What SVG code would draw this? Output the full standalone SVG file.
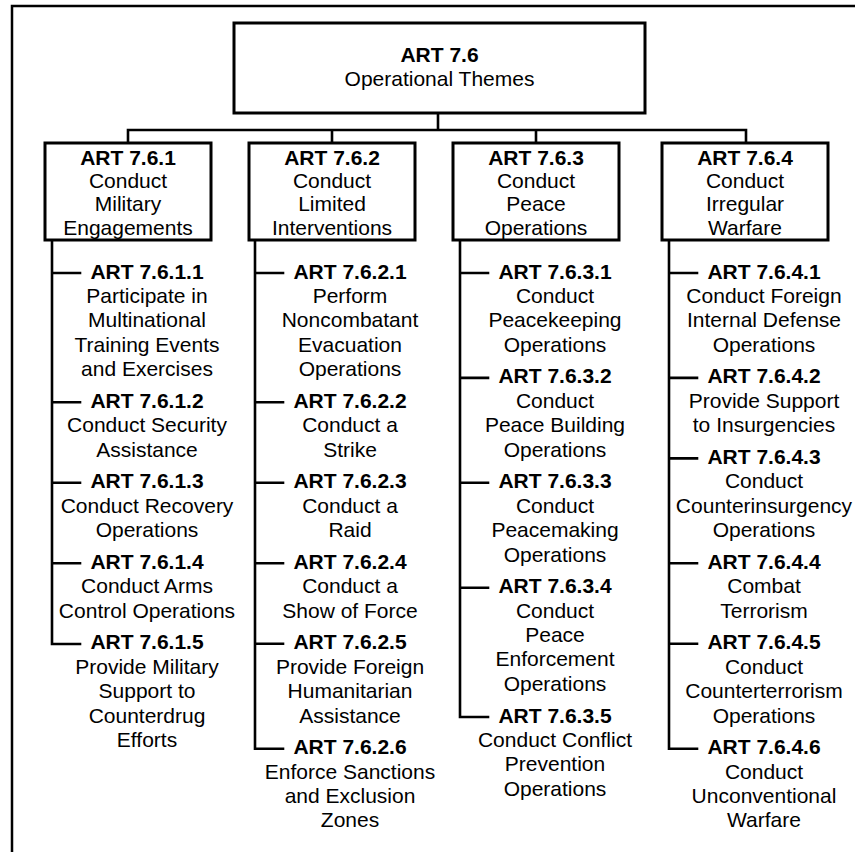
<svg xmlns="http://www.w3.org/2000/svg" width="855" height="852" viewBox="0 0 855 852">
  <style>
    .frame { fill: none; stroke: #000; stroke-width: 2.5; }
    .box { fill: #fff; stroke: #000; stroke-width: 3; }
    .wire { fill: none; stroke: #000; stroke-width: 2.6; stroke-linecap: square; }
    text { font-family: "Liberation Sans", Arial, sans-serif; font-size: 21px; fill: #000; text-anchor: middle; }
    .id { font-weight: bold; }
  </style>
  <rect width="855" height="852" fill="#fff"/>
  <!-- page frame (open to the right and bottom) -->
  <path class="frame" d="M12,852 V6 H855"/>

  <!-- connectors -->
  <g id="connectors">
    <path class="wire" d="M438,113 V130 M128,130 H746 M128,130 V143 M332,130 V143 M536,130 V143 M746,130 V143"/>
    <!-- column 1 -->
    <path class="wire" d="M52,240 V644 H80 M52,273 H80 M52,402.3 H80 M52,482.8 H80 M52,563.3 H80"/>
    <!-- column 2 -->
    <path class="wire" d="M255,240 V748.7 H283 M255,273 H283 M255,402.3 H283 M255,482.8 H283 M255,563.3 H283 M255,643.8 H283"/>
    <!-- column 3 -->
    <path class="wire" d="M460,240 V717 H488 M460,273 H488 M460,377.9 H488 M460,482.8 H488 M460,587.7 H488"/>
    <!-- column 4 -->
    <path class="wire" d="M669,240 V748.7 H697 M669,273 H697 M669,377.9 H697 M669,458.4 H697 M669,563.3 H697 M669,643.8 H697"/>
  </g>

  <!-- root -->
  <g id="art-7-6">
    <rect class="box" x="234" y="23" width="411" height="90"/>
    <text x="439.5" y="62" class="id">ART 7.6</text>
    <text x="439.5" y="86">Operational Themes</text>
  </g>

  <!-- second level -->
  <g id="art-7-6-1">
    <rect class="box" x="45" y="143" width="166" height="97"/>
    <text x="128" y="165" class="id">ART 7.6.1</text>
    <text x="128" y="188.2">Conduct</text>
    <text x="128" y="211.4">Military</text>
    <text x="128" y="234.6">Engagements</text>
  </g>
  <g id="art-7-6-2">
    <rect class="box" x="249" y="143" width="166" height="97"/>
    <text x="332" y="165" class="id">ART 7.6.2</text>
    <text x="332" y="188.2">Conduct</text>
    <text x="332" y="211.4">Limited</text>
    <text x="332" y="234.6">Interventions</text>
  </g>
  <g id="art-7-6-3">
    <rect class="box" x="453" y="143" width="166" height="97"/>
    <text x="536" y="165" class="id">ART 7.6.3</text>
    <text x="536" y="188.2">Conduct</text>
    <text x="536" y="211.4">Peace</text>
    <text x="536" y="234.6">Operations</text>
  </g>
  <g id="art-7-6-4">
    <rect class="box" x="662" y="143" width="166" height="97"/>
    <text x="745" y="165" class="id">ART 7.6.4</text>
    <text x="745" y="188.2">Conduct</text>
    <text x="745" y="211.4">Irregular</text>
    <text x="745" y="234.6">Warfare</text>
  </g>

  <!-- column 1 tasks -->
  <g id="art-7-6-1-1">
    <text x="147" y="278.5" class="id">ART 7.6.1.1</text>
    <text x="147" y="302.9">Participate in</text>
    <text x="147" y="327.3">Multinational</text>
    <text x="147" y="351.7">Training Events</text>
    <text x="147" y="376.1">and Exercises</text>
  </g>
  <g id="art-7-6-1-2">
    <text x="147" y="407.8" class="id">ART 7.6.1.2</text>
    <text x="147" y="432.2">Conduct Security</text>
    <text x="147" y="456.6">Assistance</text>
  </g>
  <g id="art-7-6-1-3">
    <text x="147" y="488.3" class="id">ART 7.6.1.3</text>
    <text x="147" y="512.7">Conduct Recovery</text>
    <text x="147" y="537.1">Operations</text>
  </g>
  <g id="art-7-6-1-4">
    <text x="147" y="568.8" class="id">ART 7.6.1.4</text>
    <text x="147" y="593.2">Conduct Arms</text>
    <text x="147" y="617.6">Control Operations</text>
  </g>
  <g id="art-7-6-1-5">
    <text x="147" y="649.3" class="id">ART 7.6.1.5</text>
    <text x="147" y="673.7">Provide Military</text>
    <text x="147" y="698.1">Support to</text>
    <text x="147" y="722.5">Counterdrug</text>
    <text x="147" y="746.9">Efforts</text>
  </g>

  <!-- column 2 tasks -->
  <g id="art-7-6-2-1">
    <text x="350" y="278.5" class="id">ART 7.6.2.1</text>
    <text x="350" y="302.9">Perform</text>
    <text x="350" y="327.3">Noncombatant</text>
    <text x="350" y="351.7">Evacuation</text>
    <text x="350" y="376.1">Operations</text>
  </g>
  <g id="art-7-6-2-2">
    <text x="350" y="407.8" class="id">ART 7.6.2.2</text>
    <text x="350" y="432.2">Conduct a</text>
    <text x="350" y="456.6">Strike</text>
  </g>
  <g id="art-7-6-2-3">
    <text x="350" y="488.3" class="id">ART 7.6.2.3</text>
    <text x="350" y="512.7">Conduct a</text>
    <text x="350" y="537.1">Raid</text>
  </g>
  <g id="art-7-6-2-4">
    <text x="350" y="568.8" class="id">ART 7.6.2.4</text>
    <text x="350" y="593.2">Conduct a</text>
    <text x="350" y="617.6">Show of Force</text>
  </g>
  <g id="art-7-6-2-5">
    <text x="350" y="649.3" class="id">ART 7.6.2.5</text>
    <text x="350" y="673.7">Provide Foreign</text>
    <text x="350" y="698.1">Humanitarian</text>
    <text x="350" y="722.5">Assistance</text>
  </g>
  <g id="art-7-6-2-6">
    <text x="350" y="754.2" class="id">ART 7.6.2.6</text>
    <text x="350" y="778.6">Enforce Sanctions</text>
    <text x="350" y="803">and Exclusion</text>
    <text x="350" y="827.4">Zones</text>
  </g>

  <!-- column 3 tasks -->
  <g id="art-7-6-3-1">
    <text x="555" y="278.5" class="id">ART 7.6.3.1</text>
    <text x="555" y="302.9">Conduct</text>
    <text x="555" y="327.3">Peacekeeping</text>
    <text x="555" y="351.7">Operations</text>
  </g>
  <g id="art-7-6-3-2">
    <text x="555" y="383.4" class="id">ART 7.6.3.2</text>
    <text x="555" y="407.8">Conduct</text>
    <text x="555" y="432.2">Peace Building</text>
    <text x="555" y="456.6">Operations</text>
  </g>
  <g id="art-7-6-3-3">
    <text x="555" y="488.3" class="id">ART 7.6.3.3</text>
    <text x="555" y="512.7">Conduct</text>
    <text x="555" y="537.1">Peacemaking</text>
    <text x="555" y="561.5">Operations</text>
  </g>
  <g id="art-7-6-3-4">
    <text x="555" y="593.2" class="id">ART 7.6.3.4</text>
    <text x="555" y="617.6">Conduct</text>
    <text x="555" y="642">Peace</text>
    <text x="555" y="666.4">Enforcement</text>
    <text x="555" y="690.8">Operations</text>
  </g>
  <g id="art-7-6-3-5">
    <text x="555" y="722.5" class="id">ART 7.6.3.5</text>
    <text x="555" y="746.9">Conduct Conflict</text>
    <text x="555" y="771.3">Prevention</text>
    <text x="555" y="795.7">Operations</text>
  </g>

  <!-- column 4 tasks -->
  <g id="art-7-6-4-1">
    <text x="764" y="278.5" class="id">ART 7.6.4.1</text>
    <text x="764" y="302.9">Conduct Foreign</text>
    <text x="764" y="327.3">Internal Defense</text>
    <text x="764" y="351.7">Operations</text>
  </g>
  <g id="art-7-6-4-2">
    <text x="764" y="383.4" class="id">ART 7.6.4.2</text>
    <text x="764" y="407.8">Provide Support</text>
    <text x="764" y="432.2">to Insurgencies</text>
  </g>
  <g id="art-7-6-4-3">
    <text x="764" y="463.9" class="id">ART 7.6.4.3</text>
    <text x="764" y="488.3">Conduct</text>
    <text x="764" y="512.7">Counterinsurgency</text>
    <text x="764" y="537.1">Operations</text>
  </g>
  <g id="art-7-6-4-4">
    <text x="764" y="568.8" class="id">ART 7.6.4.4</text>
    <text x="764" y="593.2">Combat</text>
    <text x="764" y="617.6">Terrorism</text>
  </g>
  <g id="art-7-6-4-5">
    <text x="764" y="649.3" class="id">ART 7.6.4.5</text>
    <text x="764" y="673.7">Conduct</text>
    <text x="764" y="698.1">Counterterrorism</text>
    <text x="764" y="722.5">Operations</text>
  </g>
  <g id="art-7-6-4-6">
    <text x="764" y="754.2" class="id">ART 7.6.4.6</text>
    <text x="764" y="778.6">Conduct</text>
    <text x="764" y="803">Unconventional</text>
    <text x="764" y="827.4">Warfare</text>
  </g>
</svg>
